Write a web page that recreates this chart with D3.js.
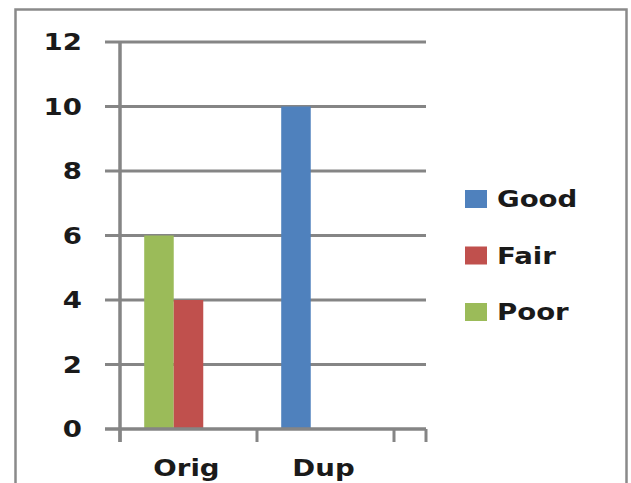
<!DOCTYPE html>
<html>
<head>
<meta charset="utf-8">
<script src="https://cdn.jsdelivr.net/npm/d3@7"></script>
<style>
  html, body { margin: 0; padding: 0; background: #fff; }
  svg { display: block; }
  text { font-family: "DejaVu Sans", Verdana, sans-serif; font-weight: bold; fill: #1a1a1a; }
</style>
</head>
<body>
<svg id="chart" width="631" height="483"></svg>
<script>
// Categories on the x axis
const categories = ["Orig", "Dup"];
// Rating series shown in the legend
const ratings = ["Good", "Fair", "Poor"];
const ratingColors = ["#4F81BD", "#C0504D", "#9BBB59"];
// Individual bars: which category, which rating, and the count
const barCategory = ["Orig", "Orig", "Dup"];
const barRating = ["Poor", "Fair", "Good"];
const barValue = [6, 4, 10];
// Y axis ticks
const yTicks = [0, 2, 4, 6, 8, 10, 12];

const svg = d3.select("#chart");
const W = 631, H = 483;
const gridColor = "#858585";
const textScale = 1.2;

// Outer frame
svg.append("rect")
  .attr("x", 15.5).attr("y", 9.5)
  .attr("width", 611).attr("height", 490)
  .attr("fill", "#fff")
  .attr("stroke", "#8a8a8a").attr("stroke-width", 2.5);

const plotLeft = 120, plotRight = 426, plotTop = 42, plotBottom = 429;

const y = d3.scaleLinear().domain([0, 12]).range([plotBottom, plotTop]);
const x = d3.scaleBand().domain(categories).range([plotLeft, plotLeft + 137 * categories.length]);

// Slot of each bar inside its category cluster (order of appearance)
const slotIndex = [];
const seen = {};
barCategory.forEach((c, i) => { seen[c] = (seen[c] || 0); slotIndex.push(seen[c]); seen[c]++; });
const xSlot = d3.scaleBand().domain([0, 1, 2]).range([0, x.bandwidth()]).paddingInner(0).paddingOuter(0.82);

const color = d3.scaleOrdinal().domain(ratings).range(ratingColors);

// Horizontal gridlines (extend left past the axis as tick marks)
svg.append("g").selectAll("line")
  .data(yTicks.filter(t => t !== 0))
  .join("line")
  .attr("x1", plotLeft - 15).attr("x2", plotRight)
  .attr("y1", d => y(d)).attr("y2", d => y(d))
  .attr("stroke", gridColor).attr("stroke-width", 3);

// Bars
svg.append("g").selectAll("rect")
  .data(barValue.map((v, i) => ({ v, c: barCategory[i], r: barRating[i], s: slotIndex[i] })))
  .join("rect")
  .attr("x", d => x(d.c) + xSlot(d.s))
  .attr("width", xSlot.bandwidth())
  .attr("y", d => y(d.v))
  .attr("height", d => y(0) - y(d.v))
  .attr("fill", d => color(d.r));

// X axis line with category boundary ticks
svg.append("line")
  .attr("x1", plotLeft - 15).attr("x2", plotRight)
  .attr("y1", y(0)).attr("y2", y(0))
  .attr("stroke", gridColor).attr("stroke-width", 3.5);

const xTickPos = categories.map(c => x(c)).concat([x.range()[1], plotRight]);
svg.append("g").selectAll("line")
  .data(xTickPos)
  .join("line")
  .attr("x1", d => d).attr("x2", d => d)
  .attr("y1", y(0)).attr("y2", y(0) + 13)
  .attr("stroke", gridColor).attr("stroke-width", 3);

// Y axis line
svg.append("line")
  .attr("x1", plotLeft).attr("x2", plotLeft)
  .attr("y1", plotTop - 1).attr("y2", y(0) + 13)
  .attr("stroke", gridColor).attr("stroke-width", 3.5);

// Y tick labels
svg.append("g").selectAll("text")
  .data(yTicks)
  .join("text")
  .attr("transform", d => `translate(82,${y(d)}) scale(${textScale},1)`)
  .attr("text-anchor", "end")
  .attr("dominant-baseline", "central")
  .attr("font-size", 23)
  .text(d => d);

// Category labels
svg.append("g").selectAll("text")
  .data(categories)
  .join("text")
  .attr("transform", d => `translate(${x(d) + x.bandwidth() / 2 - 2},476) scale(${textScale},1)`)
  .attr("text-anchor", "middle")
  .attr("font-size", 23)
  .text(d => d);

// Legend
const legend = svg.append("g").selectAll("g")
  .data(ratings)
  .join("g")
  .attr("transform", (d, i) => `translate(465,${199 + i * 56.5})`);
legend.append("rect")
  .attr("x", 0).attr("y", -9).attr("width", 22).attr("height", 18)
  .attr("fill", d => color(d));
legend.append("text")
  .attr("transform", `translate(32,0) scale(${textScale},1)`)
  .attr("dominant-baseline", "central")
  .attr("font-size", 23)
  .text(d => d);
</script>
</body>
</html>
